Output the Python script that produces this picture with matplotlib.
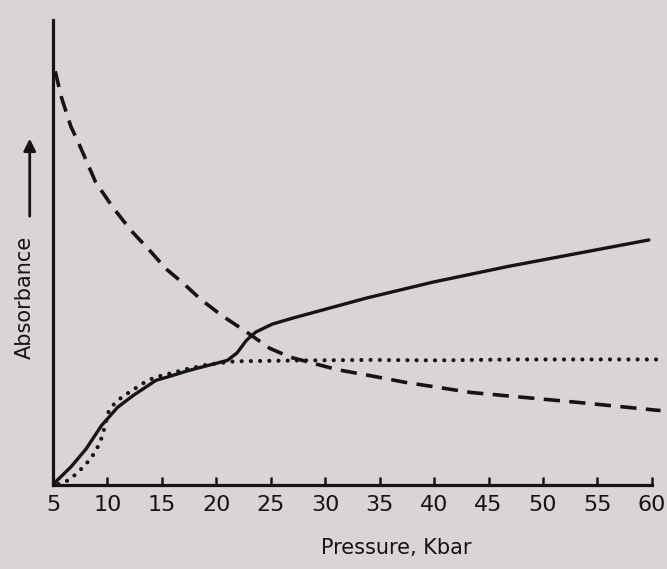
import matplotlib
matplotlib.use("Agg")
import matplotlib.pyplot as plt

# ---- data (arbitrary absorbance units) ----
dashed_x = [5.2, 5.77, 6.64, 7.36, 8.92, 10.5, 12.17, 13.82, 15.37, 17.0, 18.63,
            20.53, 22.72, 24.9, 26.77, 31.12, 34.17, 37.3, 40.35, 43.38, 47.05,
            53.5, 60.8]
dashed_y = [0.89, 0.834, 0.771, 0.735, 0.651, 0.597, 0.547, 0.506, 0.465, 0.433,
            0.398, 0.364, 0.330, 0.294, 0.275, 0.248, 0.235, 0.221, 0.210, 0.199,
            0.191, 0.177, 0.160]

solid_x = [5.0, 5.17, 6.65, 8.02, 9.46, 10.93, 12.33, 14.45, 15.62, 17.42, 19.22,
           21.02, 21.9, 22.76, 23.63, 25.14, 27.03, 33.79, 39.84, 46.79, 59.73]
solid_y = [0.0, 0.005, 0.039, 0.077, 0.128, 0.167, 0.192, 0.225, 0.233, 0.246,
           0.257, 0.268, 0.284, 0.311, 0.329, 0.346, 0.359, 0.402, 0.436, 0.470,
           0.527]

dotted_x = [5.5, 6.08, 6.70, 7.22, 7.83, 8.44, 8.94, 9.36, 9.67, 10.12, 10.64,
            11.33, 12.04, 12.84, 13.63, 14.44, 15.6, 17.41, 19.22, 21.67, 28.06,
            34.09, 40.22, 47.24, 60.58]
dotted_y = [0.002, 0.006, 0.015, 0.026, 0.040, 0.056, 0.074, 0.094, 0.118, 0.159,
            0.175, 0.189, 0.200, 0.212, 0.224, 0.232, 0.239, 0.250, 0.259, 0.266,
            0.268, 0.269, 0.268, 0.270, 0.270]

xticks = [5, 10, 15, 20, 25, 30, 35, 40, 45, 50, 55, 60]

paper = "#dad4d6"
ink = "#141414"

plt.rcParams['font.family'] = ['DejaVu Sans']

fig = plt.figure(figsize=(6.67, 5.69), dpi=100, facecolor=paper)
ax = fig.add_axes([53 / 667, (569 - 485) / 569, 613 / 667, 465 / 569])
ax.set_facecolor(paper)

ax.plot(solid_x, solid_y, color=ink, lw=2.4, solid_capstyle='round',
        solid_joinstyle='round')
ax.plot(dashed_x, dashed_y, color=ink, lw=2.6, linestyle=(0, (4.5, 2.6)),
        dash_capstyle='butt', dash_joinstyle='round')
ax.plot(dotted_x, dotted_y, color=ink, lw=3.0, linestyle=(0, (0.01, 2.2)),
        dash_capstyle='round')

ax.set_xlim(5, 61.3)
ax.set_ylim(0, 1)
for s in ['top', 'right']:
    ax.spines[s].set_visible(False)
ax.spines['bottom'].set_bounds(5, 60)
for s in ['left', 'bottom']:
    ax.spines[s].set_color(ink)
    ax.spines[s].set_linewidth(2.3)
    ax.spines[s].set_capstyle('projecting')

ax.set_xticks(xticks)
ax.set_xticklabels([str(t) for t in xticks])
ax.tick_params(axis='x', direction='in', length=6, width=1.8, color=ink,
               labelsize=16, pad=7, labelcolor=ink)
ax.set_yticks([])

ax.set_xlabel("Pressure, Kbar", fontsize=15, color=ink)
ax.xaxis.set_label_coords(0.56, -0.115)
ax.set_ylabel("Absorbance", fontsize=15, color=ink)
ax.yaxis.set_label_coords(-0.03, 0.404)
ax.annotate('', xy=(-0.038, 0.745), xytext=(-0.038, 0.578),
            xycoords='axes fraction', textcoords='axes fraction',
            arrowprops=dict(arrowstyle='-|>', lw=2.0, color=ink,
                            mutation_scale=18, shrinkA=0, shrinkB=0))

fig.savefig("out.png", dpi=100, facecolor=paper)
